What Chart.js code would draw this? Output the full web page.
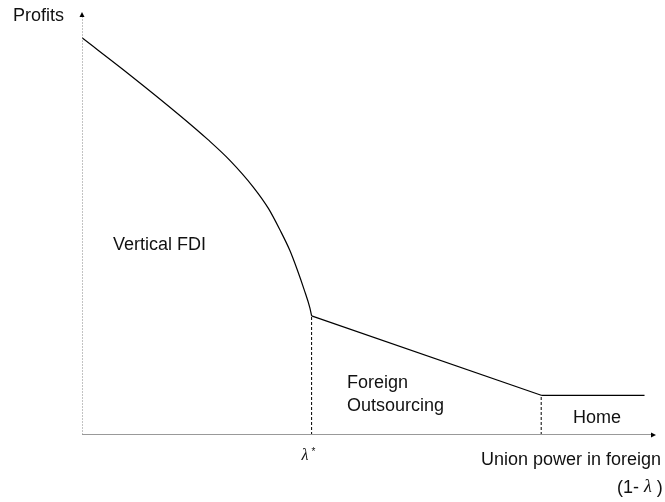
<!DOCTYPE html>
<html>
<head>
<meta charset="utf-8">
<script src="https://cdn.jsdelivr.net/npm/chart.js@4/dist/chart.umd.min.js"></script>
<style>
  html, body { margin: 0; padding: 0; background: #fff; }
  #wrap { width: 665px; height: 502px; position: relative; }
</style>
</head>
<body>
<div id="wrap"><canvas id="c" width="665" height="502"></canvas></div>
<script>
// ---- data (abstract units: x 0..10 = union power, y 0..10.6 = profits) ----
const curveX = [0, 0.84, 1.71, 2.2, 2.58, 2.98, 3.25, 3.45, 3.62, 3.75, 3.87, 3.97, 4];
const curveY = [10, 9.06, 8.04, 7.43, 6.91, 6.25, 5.70, 5.16, 4.65, 4.16, 3.66, 3.20, 3.0];
const outsourcingX = [4, 8];
const outsourcingY = [3.0, 1.0];
const homeX = [8, 9.8];
const homeY = [1.0, 1.0];
const lambdaStar = 4;
const homeThreshold = 8;
const xAxisEnd = 10;
const yAxisEnd = 10.6;
const xTitle = "Union power in foreign";
const yTitle = "Profits";
const regionLabels = ["Vertical FDI", "Foreign", "Outsourcing", "Home"];

const pts = (xs, ys) => xs.map((x, i) => ({ x: x, y: ys[i] }));

const annot = {
  id: 'annot',
  afterDatasetsDraw(chart) {
    const ctx = chart.ctx;
    const xs = chart.scales.x, ys = chart.scales.y;
    ctx.save();
    // arrowheads
    ctx.fillStyle = '#000';
    const ax = xs.getPixelForValue(0), ay = ys.getPixelForValue(yAxisEnd);
    ctx.beginPath();
    ctx.moveTo(ax, ay - 2);
    ctx.lineTo(ax - 2.5, ay + 3);
    ctx.lineTo(ax + 2.5, ay + 3);
    ctx.closePath(); ctx.fill();
    const bx = xs.getPixelForValue(xAxisEnd), by = ys.getPixelForValue(0);
    ctx.beginPath();
    ctx.moveTo(bx, by);
    ctx.lineTo(bx - 5, by - 2.5);
    ctx.lineTo(bx - 5, by + 2.5);
    ctx.closePath(); ctx.fill();

    // texts
    ctx.fillStyle = '#111';
    ctx.textBaseline = 'alphabetic';
    ctx.textAlign = 'left';
    const sans = '18px "Liberation Sans", Arial, sans-serif';
    ctx.font = sans;
    ctx.fillText(yTitle, 13, 21);
    ctx.fillText(regionLabels[0], 113, 250);
    ctx.fillText(regionLabels[1], 347, 388);
    ctx.fillText(regionLabels[2], 347, 411);
    ctx.fillText(regionLabels[3], 573, 423);
    ctx.fillText(xTitle, 481, 465);
    // (1- λ )
    let px = 617;
    ctx.fillText('(1- ', px, 493);
    px += ctx.measureText('(1- ').width;
    ctx.font = 'italic 18px "Liberation Serif", "DejaVu Serif", serif';
    ctx.fillText('\u03bb', px, 492);
    px += ctx.measureText('\u03bb').width;
    ctx.font = sans;
    ctx.fillText(' )', px, 493);
    // λ*
    const lx = xs.getPixelForValue(lambdaStar);
    ctx.font = 'italic 16px "Liberation Serif", "DejaVu Serif", serif';
    ctx.fillText('\u03bb', lx - 10, 460);
    ctx.font = '10px "Liberation Sans", Arial, sans-serif';
    ctx.fillText('*', lx, 455);
    ctx.restore();
  }
};

const solid = { borderColor: '#000', borderWidth: 1.2, pointRadius: 0, showLine: true, fill: false, tension: 0 };
const dashed = { borderColor: '#000', borderWidth: 1, borderDash: [3, 2], pointRadius: 0, showLine: true, fill: false };

new Chart(document.getElementById('c'), {
  type: 'scatter',
  data: {
    datasets: [
      { data: pts([0, xAxisEnd - 0.05], [0, 0]), borderColor: '#999', borderWidth: 2, pointRadius: 0, showLine: true },
      { data: pts([0, 0], [0, yAxisEnd - 0.05]), borderColor: '#888', borderWidth: 1, borderDash: [2, 1], pointRadius: 0, showLine: true },
      Object.assign({ data: pts([lambdaStar, lambdaStar], [0, outsourcingY[0]]) }, dashed),
      Object.assign({ data: pts([homeThreshold, homeThreshold], [0, homeY[0]]) }, dashed),
      Object.assign({ data: pts(curveX, curveY), cubicInterpolationMode: 'monotone' }, solid),
      Object.assign({ data: pts(outsourcingX, outsourcingY) }, solid),
      Object.assign({ data: pts(homeX, homeY) }, solid)
    ]
  },
  options: {
    responsive: false,
    animation: false,
    layout: { padding: { left: 82, right: 9, top: 14, bottom: 67 } },
    plugins: { legend: { display: false }, tooltip: { enabled: false } },
    scales: {
      x: { type: 'linear', min: 0, max: xAxisEnd, display: false },
      y: { type: 'linear', min: 0, max: yAxisEnd, display: false }
    },
    elements: { line: { borderCapStyle: 'butt' } }
  },
  plugins: [annot]
});
</script>
</body>
</html>
